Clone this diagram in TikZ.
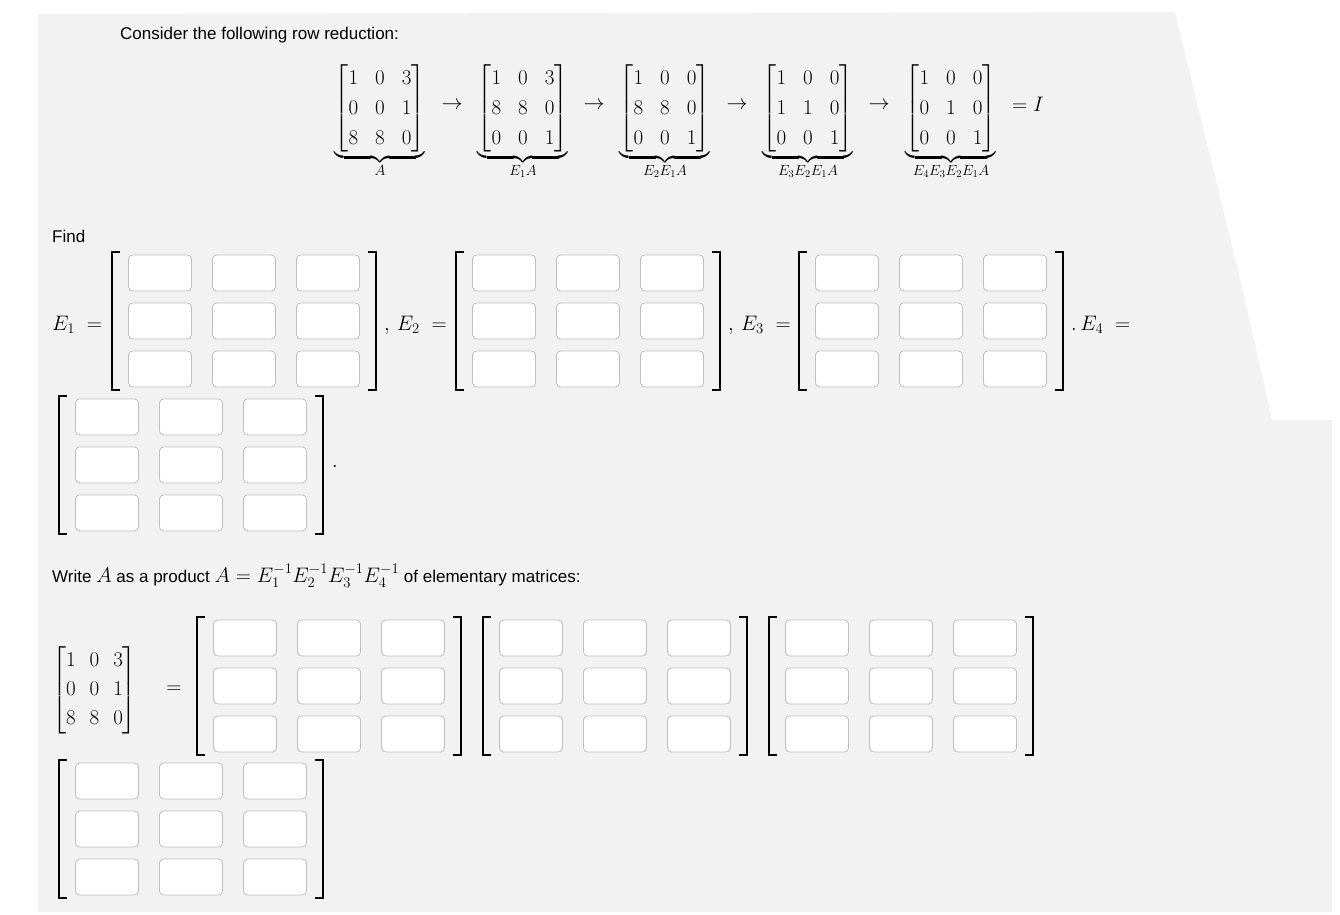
\documentclass[tikz,border=0pt]{standalone}
\usepackage{fix-cm}
\usepackage{amsmath}
\usepackage{fontspec}
\setmainfont{Liberation Sans}
\setlength\arraycolsep{8.5pt}
\renewcommand\arraystretch{1.25}
\begin{document}
\begin{tikzpicture}[x=1pt,y=-1pt,
  txt/.style={anchor=west,inner sep=0pt,font=\fontsize{17}{20}\selectfont},
  mth/.style={inner sep=0pt,font=\fontsize{21}{24}\selectfont},
  cell/.style={draw=black!25,fill=white,rounded corners=4pt,minimum width=63pt,minimum height=36pt,inner sep=0pt,line width=0.8pt},
  brk/.style={line width=2pt,line cap=rect}]
\useasboundingbox (0,0) rectangle (1340,914);
\fill[black!5] (38,14) -- (1175,12) -- (1245,300) -- (1272,420) -- (1332,420) -- (1332,912) -- (38,912) -- cycle;
\newcommand\mybrk[4]{%
  \draw[brk] (#1+7,#3) -- (#1,#3) -- (#1,#4) -- (#1+7,#4);
  \draw[brk] (#2-7,#3) -- (#2,#3) -- (#2,#4) -- (#2-7,#4);}
\newcommand\emat[4]{%
  \mybrk{#2}{#2+264}{#3-21}{#3+2*#4+21}
  \foreach \i in {0,1,2}{\foreach \j in {0,1,2}{
    \node[cell] (#1-\i-\j) at (#2+48+84*\j,#3+#4*\i) {};}}}
\node[txt] (t1) at (120,35) {Consider the following row reduction:};
\node[mth,anchor=north] (m1) at (380,63) {$\underbrace{\begin{bmatrix}1&0&3\\0&0&1\\8&8&0\end{bmatrix}}_{A}$};
\node[mth,anchor=north] (m2) at (523,63) {$\underbrace{\begin{bmatrix}1&0&3\\8&8&0\\0&0&1\end{bmatrix}}_{E_1A}$};
\node[mth,anchor=north] (m3) at (665,63) {$\underbrace{\begin{bmatrix}1&0&0\\8&8&0\\0&0&1\end{bmatrix}}_{E_2E_1A}$};
\node[mth,anchor=north] (m4) at (808,63) {$\underbrace{\begin{bmatrix}1&0&0\\1&1&0\\0&0&1\end{bmatrix}}_{E_3E_2E_1A}$};
\node[mth,anchor=north] (m5) at (951,63) {$\underbrace{\begin{bmatrix}1&0&0\\0&1&0\\0&0&1\end{bmatrix}}_{E_4E_3E_2E_1A}$};
\foreach \x/\n in {452/a1,594/a2,737/a3,879/a4}{\node[mth] (\n) at (\x,106) {$\rightarrow$};}
\node[mth,anchor=west] (eqI) at (1012,104) {$=I$};
\node[txt] (find) at (52,236) {Find};
\node[mth,anchor=west] (l1) at (52,325) {$E_1\;=$};
\emat{e1}{112}{273}{48}
\node[mth,anchor=west] (l2) at (384,325) {$,\,E_2\;=$};
\emat{e2}{456}{273}{48}
\node[mth,anchor=west] (l3) at (728,325) {$,\,E_3\;=$};
\emat{e3}{799}{273}{48}
\node[mth,anchor=west] (l4) at (1071,325) {$.\,E_4\;=$};
\emat{e4}{59}{417}{48}
\node[mth] (dot1) at (335,466) {$.$};
\node[txt] (t2) at (52,576) {Write {\fontsize{21}{24}\selectfont$A$} as a product {\fontsize{21}{24}\selectfont$A=E_1^{-1}E_2^{-1}E_3^{-1}E_4^{-1}$} of elementary matrices:};
\node[mth,anchor=west] (am) at (52,690) {\setlength\arraycolsep{7pt}\renewcommand\arraystretch{1.2}$\begin{bmatrix}1&0&3\\0&0&1\\8&8&0\end{bmatrix}$};
\node[mth] (eq2) at (174,690) {$=$};
\emat{f1}{197}{638}{48}
\emat{f2}{483}{638}{48}
\emat{f3}{769}{638}{48}
\emat{f4}{59}{781}{48}
\end{tikzpicture}
\end{document}
